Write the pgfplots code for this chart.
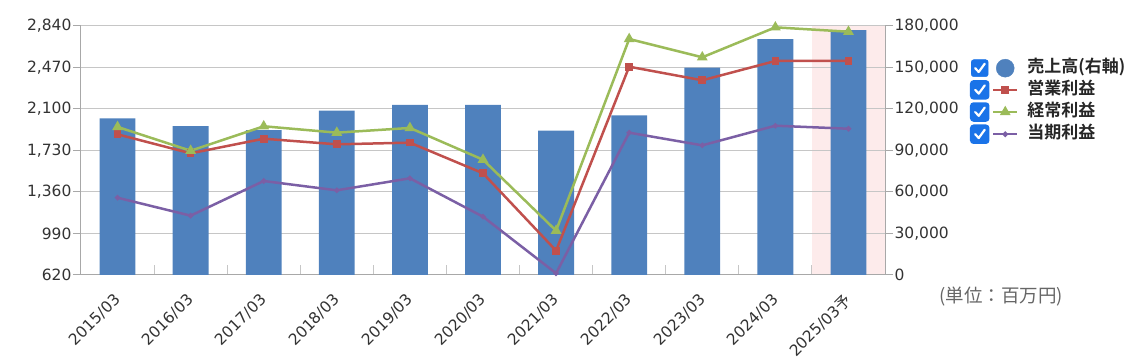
\documentclass[border=0pt]{standalone}
\usepackage{fontspec}
\usepackage{pgfplots}
\pgfplotsset{compat=1.18}
\setmainfont{DejaVu Sans}
\newfontfamily\jp{Noto Sans CJK JP}[BoldFont={Noto Sans CJK JP Bold}]
\definecolor{barblue}{HTML}{4F81BD}
\definecolor{lred}{HTML}{C0504D}
\definecolor{lgreen}{HTML}{9BBB59}
\definecolor{lpurple}{HTML}{7B5FA5}
\definecolor{cbblue}{HTML}{1A73E8}
\definecolor{pinkbg}{HTML}{FDEBEB}
\definecolor{gridgray}{HTML}{C6C6C6}
\definecolor{axisgray}{HTML}{A8A8A8}
\definecolor{txt}{HTML}{333333}
\definecolor{unitgray}{HTML}{666666}
\pgfplotsset{
  checkbox/.code={%
    \fill[cbblue, rounded corners=2.5pt] (0pt,-8.5pt) rectangle (17pt,8.5pt);
    \draw[white, line width=2.2pt, line cap=round, line join=round, solid] (4pt,0pt) -- (7.5pt,-3.8pt) -- (13.5pt,4.5pt);
  },
  cbline/.style={legend image code/.code={%
    \pgfplotsset{checkbox}
    \draw[mark repeat=2, mark phase=2] plot coordinates {(22pt,0pt) (34pt,0pt) (46pt,0pt)};
  }},
  /pgf/number format/fixed,
  /pgf/number format/1000 sep={,},
  /pgf/number format/assume math mode=true,
}
\begin{document}
\begin{tikzpicture}
\useasboundingbox (-81pt,-86pt) rectangle (1060pt,275pt);
% background band for forecast year
\begin{axis}[
  at={(0pt,0pt)}, anchor=south west,
  scale only axis, width=804pt, height=249pt,
  xmin=-0.5, xmax=10.5, ymin=0, ymax=1,
  hide axis,
]
\addplot[fill=pinkbg, draw=none] coordinates {(9.5,0) (9.5,1) (10.5,1) (10.5,0)} -- cycle;
\end{axis}
% bars, right axis
\begin{axis}[
  at={(0pt,0pt)}, anchor=south west,
  scale only axis, width=804pt, height=249pt,
  xmin=-0.5, xmax=10.5, ymin=0, ymax=180000,
  axis y line*=right, axis x line*=bottom,
  axis line style={axisgray, line width=1pt},
  ytick={0,30000,60000,90000,120000,150000,180000},
  scaled y ticks=false,
  yticklabel style={font=\fontsize{15.5}{18}\selectfont, text=txt, xshift=6pt},
  ymajorgrids, grid style={gridgray, line width=1pt},
  tick align=inside,
  ytick style={axisgray, line width=1pt, xshift=8pt},
  major tick length=8pt,
  xtick={0,...,10},
  xticklabels={2015/03,2016/03,2017/03,2018/03,2019/03,2020/03,2021/03,2022/03,2023/03,2024/03,2025/03{\jp 予}},
  xticklabel style={font=\fontsize{15.5}{18}\selectfont, text=txt, rotate=45, anchor=east, inner sep=0pt, xshift=-15.5pt, yshift=-16pt},
  major x tick style={draw=none},
  minor xtick={0.5,1.5,...,9.5},
  minor tick length=10pt,
  minor x tick style={gridgray, line width=1pt},
]
\addplot[ybar, bar width=0.49, fill=barblue, draw=none] coordinates {
  (0,113300) (1,107700) (2,104800) (3,118800) (4,122900) (5,122900)
  (6,104300) (7,115400) (8,149900) (9,170600) (10,177100)
};
\end{axis}
% lines, left axis
\begin{axis}[
  at={(0pt,0pt)}, anchor=south west,
  scale only axis, width=804pt, height=249pt,
  xmin=-0.5, xmax=10.5, ymin=620, ymax=2840,
  axis y line*=left, axis x line=none,
  axis line style={axisgray, line width=1pt},
  ytick={620,990,1360,1730,2100,2470,2840},
  yticklabel style={font=\fontsize{15.5}{18}\selectfont, text=txt, xshift=-6pt},
  tick align=inside,
  major tick length=8pt,
  ytick style={axisgray, line width=1pt, xshift=-8pt},
  xtick=\empty,
  legend style={at={(1.1057,0.8675)}, anchor=north west, draw=none, fill=none,
    inner sep=0pt, outer sep=0pt, row sep=2.7pt,
    nodes={inner sep=0pt, text height=12.5pt, text depth=3.5pt, font=\jp\bfseries\fontsize{17}{19}\selectfont, text=black!85},
    /tikz/every odd column/.append style={column sep=9pt}},
  legend cell align=left,
]
\addlegendimage{legend image code/.code={\pgfplotsset{checkbox}\fill[barblue] (34pt,0pt) circle (9pt);}}
\addlegendentry{売上高(右軸)}
\addplot[lred, line width=2.5pt, mark=square*, mark size=2.6pt, mark options={solid}, cbline] coordinates {
  (0,1874) (1,1705) (2,1835) (3,1785) (4,1800) (5,1527)
  (6,837) (7,2477) (8,2356) (9,2528) (10,2530)
};
\addlegendentry{営業利益}
\addplot[lgreen, line width=2.5pt, mark=triangle*, mark size=3.8pt, mark options={solid}, cbline] coordinates {
  (0,1940) (1,1728) (2,1946) (3,1889) (4,1931) (5,1648)
  (6,1015) (7,2724) (8,2561) (9,2828) (10,2789)
};
\addlegendentry{経常利益}
\addplot[lpurple, line width=2.5pt, mark=*, mark size=1.3pt, mark options={solid}, cbline] coordinates {
  (0,1309) (1,1149) (2,1458) (3,1375) (4,1482) (5,1140)
  (6,635) (7,1889) (8,1776) (9,1951) (10,1924)
};
\addlegendentry{当期利益}
\end{axis}
\node[font=\jp\fontsize{18.5}{20}\selectfont, text=unitgray] at (920pt,-22pt) {(単位：百万円)};
\end{tikzpicture}
\end{document}
